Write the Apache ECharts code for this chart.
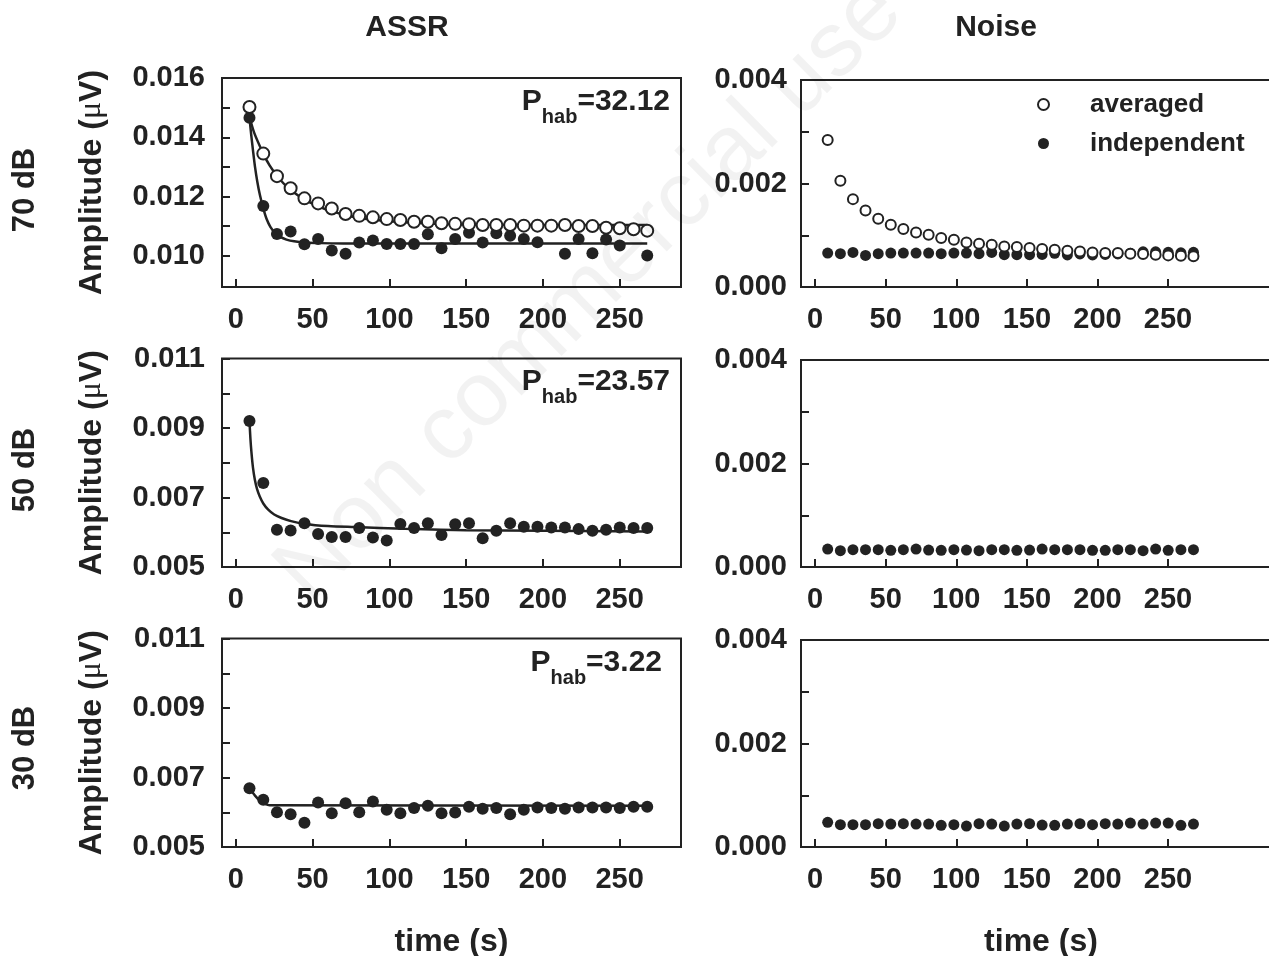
<!DOCTYPE html>
<html>
<head>
<meta charset="utf-8">
<script src="https://cdn.jsdelivr.net/npm/echarts@6/dist/echarts.min.js"></script>
<style>
html,body{margin:0;padding:0;background:#fff;}
#c{width:1269px;height:956px;}
</style>
</head>
<body>
<div id="c"></div>
<script>
// ---------- data ----------
const times = [8.9, 17.9, 26.8, 35.7, 44.7, 53.6, 62.5, 71.5, 80.4, 89.3, 98.3, 107.2, 116.1, 125.1, 134.0,
  142.9, 151.9, 160.8, 169.7, 178.7, 187.6, 196.5, 205.5, 214.4, 223.3, 232.3, 241.2, 250.1, 259.1, 268.0];

// 70 dB ASSR
const assr70Avg = [0.01502, 0.01345, 0.01269, 0.01228, 0.01194, 0.01177, 0.01160, 0.01141, 0.01135, 0.01130,
  0.01124, 0.01121, 0.01115, 0.01115, 0.01110, 0.01108, 0.01107, 0.01104, 0.01104, 0.01104,
  0.01102, 0.01102, 0.01102, 0.01104, 0.01101, 0.01101, 0.01095, 0.01093, 0.01090, 0.01085];
const assr70Ind = [0.01466, 0.01168, 0.01074, 0.01082, 0.01039, 0.01057, 0.01018, 0.01007, 0.01045, 0.01052,
  0.01040, 0.01040, 0.01040, 0.01073, 0.01026, 0.01057, 0.01078, 0.01045, 0.01076, 0.01068,
  0.01057, 0.01046, 0.01102, 0.01007, 0.01057, 0.01009, 0.01055, 0.01035, 0.01090, 0.01001];
const fit70AvgX = [8.9, 12, 17.9, 22, 26.8, 31, 35.7, 44.7, 53.6, 62.5, 71.5, 80.4, 98.3, 116, 142.9, 178.7, 223, 268];
const fit70AvgY = [0.01470, 0.01415, 0.01345, 0.01305, 0.01270, 0.01245, 0.01222, 0.01190, 0.01168, 0.01150,
  0.01138, 0.01128, 0.01118, 0.01112, 0.01107, 0.01105, 0.01104, 0.01104];
const fit70IndX = [8.9, 10, 11.2, 12.5, 14, 15.7, 17.9, 20, 22.5, 25.5, 29, 33, 38, 45, 55, 70, 100, 268];
const fit70IndY = [0.01466, 0.01410, 0.01355, 0.01300, 0.01250, 0.01205, 0.01160, 0.01125, 0.01098, 0.01078,
  0.01064, 0.01055, 0.01049, 0.01045, 0.01043, 0.01042, 0.01042, 0.01042];

// 70 dB Noise
const noise70Avg = [0.002842, 0.002051, 0.001698, 0.001479, 0.001318, 0.001203, 0.001119, 0.001055, 0.001010, 0.000945,
  0.000913, 0.000862, 0.000836, 0.000817, 0.000785, 0.000772, 0.000752, 0.000733, 0.000720, 0.000701,
  0.000688, 0.000669, 0.000656, 0.000656, 0.000643, 0.000637, 0.000624, 0.000611, 0.000605, 0.000592];
const noise70Ind = [0.000656, 0.000643, 0.000669, 0.000611, 0.000643, 0.000656, 0.000656, 0.000656, 0.000656, 0.000643,
  0.000656, 0.000656, 0.000643, 0.000669, 0.000624, 0.000624, 0.000624, 0.000630, 0.000650, 0.000620,
  0.000640, 0.000620, 0.000630, 0.000640, 0.000650, 0.000680, 0.000680, 0.000670, 0.000660, 0.000670];

// 50 dB
const assr50Ind = [0.00920, 0.00742, 0.00607, 0.00605, 0.00626, 0.00595, 0.00586, 0.00586, 0.00612, 0.00585,
  0.00576, 0.00624, 0.00612, 0.00626, 0.00592, 0.00623, 0.00626, 0.00583, 0.00604, 0.00626,
  0.00616, 0.00616, 0.00614, 0.00614, 0.00609, 0.00604, 0.00607, 0.00614, 0.00612, 0.00612];
const fit50X = [8.9, 9.5, 10.2, 11.2, 12.4, 13.8, 15.6, 18, 21.1, 25, 29.8, 36, 45, 60, 77.6, 110, 150, 268];
const fit50Y = [0.00920, 0.00870, 0.00829, 0.00785, 0.00751, 0.00725, 0.00703, 0.00682, 0.00665, 0.00651,
  0.00641, 0.00632, 0.00624, 0.00618, 0.00615, 0.00610, 0.00606, 0.00602];
const noise50Ind = [0.000347, 0.000315, 0.000334, 0.000334, 0.000334, 0.000322, 0.000334, 0.000347, 0.000328, 0.000322,
  0.000334, 0.000328, 0.000315, 0.000334, 0.000334, 0.000322, 0.000328, 0.000347, 0.000334, 0.000334,
  0.000334, 0.000322, 0.000322, 0.000334, 0.000334, 0.000315, 0.000347, 0.000322, 0.000334, 0.000334];

// 30 dB
const assr30Ind = [0.00669, 0.00636, 0.00600, 0.00594, 0.00570, 0.00628, 0.00597, 0.00626, 0.00600, 0.00631,
  0.00607, 0.00597, 0.00612, 0.00619, 0.00597, 0.00599, 0.00616, 0.00610, 0.00612, 0.00594,
  0.00607, 0.00614, 0.00612, 0.00610, 0.00614, 0.00614, 0.00614, 0.00612, 0.00616, 0.00616];
const fit30X = [8.9, 12.5, 16, 19, 22, 268];
const fit30Y = [0.00669, 0.00648, 0.00632, 0.00624, 0.00620, 0.00619];
const noise30Ind = [0.000476, 0.000431, 0.000431, 0.000431, 0.000450, 0.000444, 0.000450, 0.000444, 0.000444, 0.000418,
  0.000431, 0.000405, 0.000450, 0.000444, 0.000405, 0.000444, 0.000450, 0.000424, 0.000418, 0.000444,
  0.000450, 0.000431, 0.000450, 0.000444, 0.000463, 0.000444, 0.000463, 0.000463, 0.000418, 0.000444];

const xTicks = [0, 50, 100, 150, 200, 250];
const yTicks70 = [0.010, 0.011, 0.012, 0.013, 0.014, 0.015, 0.016];
const yLabels70 = [0.010, 0.012, 0.014, 0.016];
const yTicksLow = [0.005, 0.006, 0.007, 0.008, 0.009, 0.010, 0.011];
const yLabelsLow = [0.005, 0.007, 0.009, 0.011];
const yTicksNoise = [0, 0.001, 0.002, 0.003, 0.004];
const yLabelsNoise = [0, 0.002, 0.004];
const rowLabels = ['70 dB', '50 dB', '30 dB'];
const pHab = ['32.12', '23.57', '3.22'];

// ---------- helpers ----------
const INK = '#222';
const FONT = 'Liberation Sans, Arial, sans-serif';
const zip = (xs, ys) => xs.map((x, i) => [x, ys[i]]);

const grids = [
  {left: 222, top: 78,    width: 459, height: 209},
  {left: 801, top: 80,    width: 480, height: 207},
  {left: 222, top: 358.5, width: 459, height: 208.5},
  {left: 801, top: 360,   width: 480, height: 207},
  {left: 222, top: 638.5, width: 459, height: 208.5},
  {left: 801, top: 640,   width: 480, height: 207}
].map(g => Object.assign({show: true, borderColor: INK, borderWidth: 2, backgroundColor: 'transparent',
  containLabel: false, outerBoundsMode: 'none'}, g));

function xAxis(i, withName) {
  const left = i % 2 === 0;
  const a = {
    type: 'value', gridIndex: i,
    min: left ? -9 : -10, max: left ? 290 : 330,
    axisLine: {show: false, onZero: false},
    axisTick: {show: true, inside: true, length: 8, lineStyle: {color: INK, width: 2}, customValues: xTicks},
    axisLabel: {show: true, customValues: xTicks, margin: 18, fontSize: 29, fontWeight: 'bold', color: INK, fontFamily: FONT},
    splitLine: {show: false}
  };
  if (withName) {
    a.name = 'time (s)';
    a.nameLocation = 'middle';
    a.nameGap = 79;
    a.nameTextStyle = {fontSize: 32, fontWeight: 'bold', color: INK, fontFamily: FONT};
  }
  return a;
}
function yAxis(i, min, max, ticks, labels, withName) {
  const left = i % 2 === 0;
  const a = {
    type: 'value', gridIndex: i, min: min, max: max,
    axisLine: {show: false, onZero: false},
    axisTick: {show: true, inside: true, length: 8, lineStyle: {color: INK, width: 2}, customValues: ticks},
    axisLabel: {show: true, customValues: labels, margin: left ? 17 : 14, fontSize: 29, fontWeight: 'bold',
      color: INK, fontFamily: FONT, formatter: v => Number(v).toFixed(3)},
    splitLine: {show: false}
  };
  if (withName) {
    a.name = 'Amplitude ({m|μ}V)';
    a.nameLocation = 'middle';
    a.nameRotate = 90;
    a.nameGap = 114;
    a.nameTextStyle = {fontSize: 32, fontWeight: 'bold', color: INK, fontFamily: FONT,
      rich: {m: {fontSize: 32, fontWeight: 'normal', color: INK, fontFamily: 'Liberation Serif, serif'}}};
  }
  return a;
}

function fit(i, xs, ys) {
  return {type: 'line', name: 'fit', xAxisIndex: i, yAxisIndex: i, data: zip(xs, ys),
    showSymbol: false, smooth: 0.3, silent: true,
    lineStyle: {color: INK, width: 2.5}, z: 2};
}
function dots(i, name, ys, open, size) {
  return {type: 'scatter', name: name, xAxisIndex: i, yAxisIndex: i, data: zip(times, ys),
    symbol: 'circle', symbolSize: size,
    itemStyle: open ? {color: '#fff', borderColor: INK, borderWidth: 2, opacity: 1}
                    : {color: INK, borderColor: INK, borderWidth: 0, opacity: 1},
    z: open ? 4 : 3};
}

const series = [
  fit(0, fit70AvgX, fit70AvgY),
  fit(0, fit70IndX, fit70IndY),
  dots(0, 'independent', assr70Ind, false, 12),
  dots(0, 'averaged', assr70Avg, true, 12),
  dots(1, 'independent', noise70Ind, false, 11),
  dots(1, 'averaged', noise70Avg, true, 10),
  fit(2, fit50X, fit50Y),
  dots(2, 'independent', assr50Ind, false, 12),
  dots(3, 'independent', noise50Ind, false, 11),
  fit(4, fit30X, fit30Y),
  dots(4, 'independent', assr30Ind, false, 12),
  dots(5, 'independent', noise30Ind, false, 11)
];

const pRight = [670, 670, 662];
const pTop = [87, 367, 648];
const graphic = [
  {type: 'text', x: 590, y: 292, rotation: 0.78, silent: true, z: 100,
    style: {text: 'Non commercial use', x: 0, y: 0, align: 'center', verticalAlign: 'middle',
      font: 'normal 92px ' + FONT, fill: 'rgba(0,0,0,0.05)'}},
  {type: 'text', x: 407, y: 28, style: {text: 'ASSR', align: 'center', verticalAlign: 'middle',
    font: 'bold 30px ' + FONT, fill: INK}},
  {type: 'text', x: 996, y: 28, style: {text: 'Noise', align: 'center', verticalAlign: 'middle',
    font: 'bold 30px ' + FONT, fill: INK}}
];
[190, 470, 748].forEach((y, k) => {
  graphic.push({type: 'text', x: 25, y: y, rotation: Math.PI / 2,
    style: {text: rowLabels[k], align: 'center', verticalAlign: 'middle', font: 'bold 31px ' + FONT, fill: INK}});
  graphic.push({type: 'text', x: pRight[k], y: pTop[k],
    style: {text: '{a|P}{s|hab}{a|=' + pHab[k] + '}', align: 'right', verticalAlign: 'top', fill: INK,
      rich: {
        a: {fontSize: 30, fontWeight: 'bold', fontFamily: FONT, lineHeight: 32, verticalAlign: 'top', fill: INK},
        s: {fontSize: 20, fontWeight: 'bold', fontFamily: FONT, lineHeight: 22, verticalAlign: 'top', padding: [20, 0, 0, 0], fill: INK}
      }}});
});

const option = {
  animation: false,
  backgroundColor: '#fff',
  grid: grids,
  xAxis: [xAxis(0), xAxis(1), xAxis(2), xAxis(3), xAxis(4, true), xAxis(5, true)],
  yAxis: [
    yAxis(0, 0.00895, 0.016, yTicks70, yLabels70, true),
    yAxis(1, 0, 0.004, yTicksNoise, yLabelsNoise, false),
    yAxis(2, 0.005, 0.011, yTicksLow, yLabelsLow, true),
    yAxis(3, 0, 0.004, yTicksNoise, yLabelsNoise, false),
    yAxis(4, 0.005, 0.011, yTicksLow, yLabelsLow, true),
    yAxis(5, 0, 0.004, yTicksNoise, yLabelsNoise, false)
  ],
  legend: {
    data: ['averaged', 'independent'], orient: 'vertical', left: 1032, top: 85,
    itemWidth: 11, itemHeight: 11, itemGap: 10, icon: 'circle', selectedMode: false,
    textStyle: {fontSize: 26, fontWeight: 'bold', color: INK, fontFamily: FONT, padding: [0, 0, 0, 36], lineHeight: 29}
  },
  graphic: graphic,
  series: series
};
const chart = echarts.init(document.getElementById('c'), null, {renderer: 'canvas'});
chart.setOption(option);
</script>
</body>
</html>
